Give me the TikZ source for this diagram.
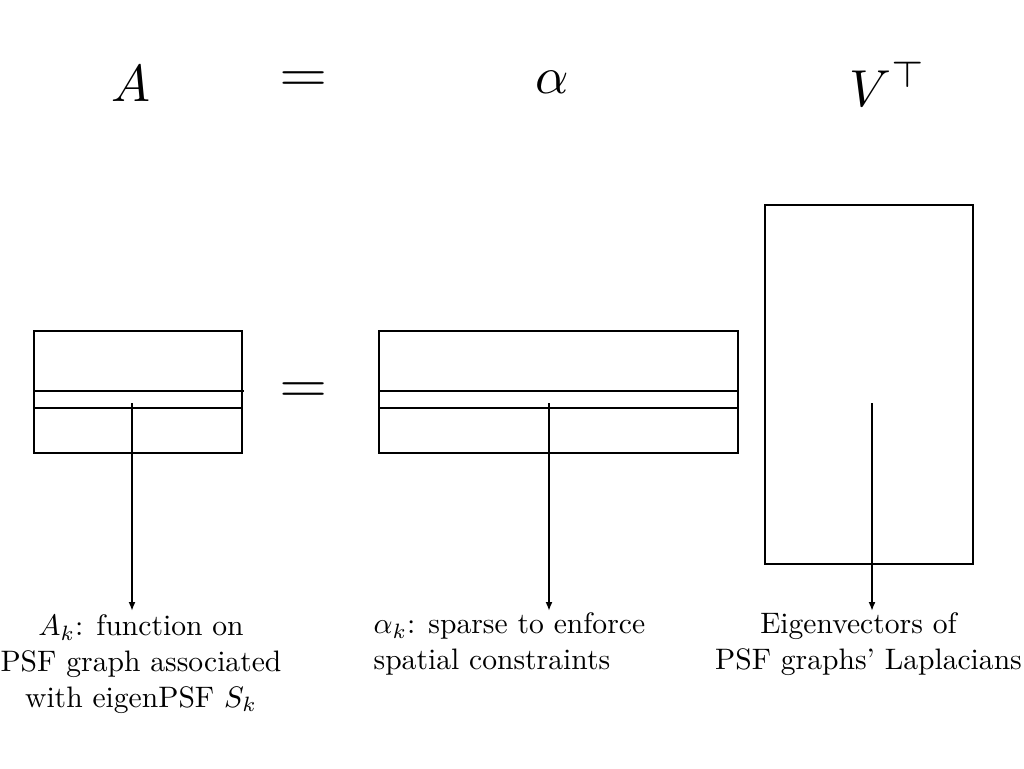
\RequirePackage{fix-cm}
\documentclass[tikz,border=0pt]{standalone}
\usetikzlibrary{arrows.meta}
\begin{document}
\begin{tikzpicture}[x=1pt,y=-1pt,
  mat/.style={line width=1.8pt},
  pointer/.style={line width=1.8pt,-{Latex[length=9pt,width=7pt]}},
  big/.style={font=\normalsize,inner sep=0pt,scale=5.2,transform shape},
  bigeq/.style={font=\normalsize,inner sep=0pt,xscale=6.2,yscale=5.4,transform shape},
  lbl/.style={font=\normalsize,align=center,inner sep=0pt,anchor=north,scale=2.96,transform shape}]
\useasboundingbox (0,0) rectangle (1024,768);
% top row
\node[big] (tA) at (131,84) {$A$};
\node[bigeq] (teq) at (304,82) {$=$};
\node[big] (talpha) at (552,82) {$\alpha$};
\node[big] (tV) at (888,84) {$V^{\top}$};
% matrices
\draw[mat] (34,331) rectangle (242,453);
\draw[mat] (34,391) -- (244,391);
\draw[mat] (34,408) -- (242,408);
\node[bigeq] (meq) at (304,393) {$=$};
\draw[mat] (379,331) rectangle (738,453);
\draw[mat] (379,391) -- (738,391);
\draw[mat] (379,408) -- (738,408);
\draw[mat] (765,205) rectangle (973,564);
% anchor points
\coordinate (pA) at (132,403);
\coordinate (pal) at (549,403);
\coordinate (pV) at (872,403);
% labels
\node[lbl] (lA) at (141,614.5) {$A_k$: function on\\PSF graph associated\\with eigenPSF $S_k$};
\node[lbl,align=left,anchor=north west] (lal) at (373,612.5) {$\alpha_k$: sparse to enforce\\spatial constraints};
\node[lbl] (lV) at (868.5,612.5) {Eigenvectors of\hspace*{6.8pt}\\PSF graphs' Laplacians};
% arrows
\draw[pointer] (pA) -- (132,611);
\draw[pointer] (pal) -- (549,611);
\draw[pointer] (pV) -- (872,611);
\end{tikzpicture}
\end{document}
